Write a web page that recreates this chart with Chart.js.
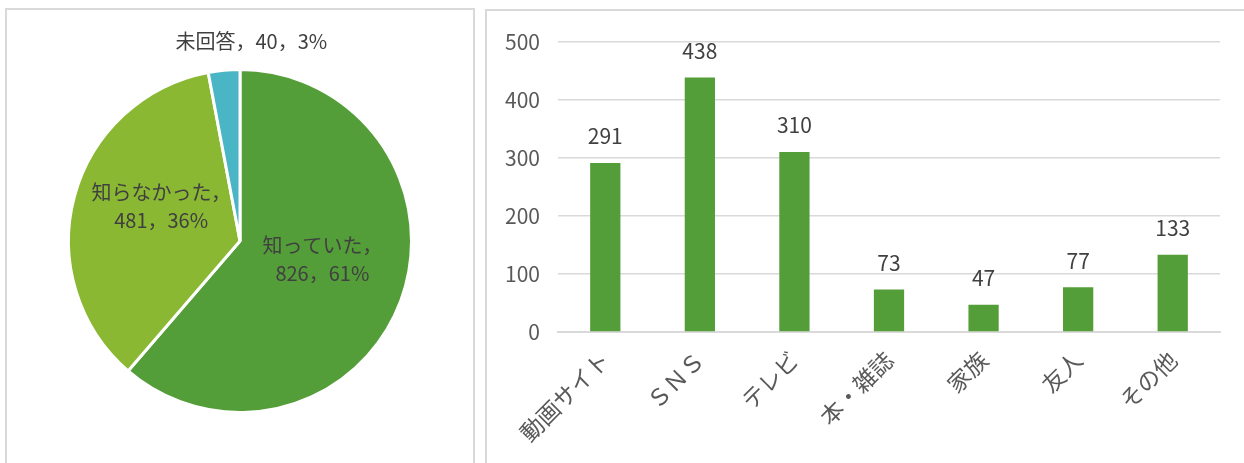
<!DOCTYPE html>
<html lang="ja">
<head>
<meta charset="utf-8">
<script src="https://cdn.jsdelivr.net/npm/chart.js@4"></script>
<style>
  body { margin: 0; width: 1244px; height: 463px; overflow: hidden; background: #fff; font-family: "Noto Sans CJK JP", sans-serif; }
  .panel { position: absolute; border: 2px solid #d9d9d9; box-sizing: border-box; background: #fff; }
  #pie-panel { left: 5px; top: 8px; width: 470px; height: 480px; }
  #bar-panel { left: 485px; top: 9px; width: 800px; height: 480px; }
  canvas { position: absolute; }
</style>
</head>
<body>
<div class="panel" id="pie-panel"><canvas id="pie-chart"></canvas></div>
<div class="panel" id="bar-panel"><canvas id="bar-chart"></canvas></div>
<script>
// Pie data
const pieLabels = ['知っていた', '知らなかった', '未回答'];
const pieValues = [826, 481, 40];
const piePercents = ['61%', '36%', '3%'];
const pieColors = ['#549e39', '#8ab833', '#4ab5c4'];

// Bar data
const barLabels = ['動画サイト', 'ＳＮＳ', 'テレビ', '本・雑誌', '家族', '友人', 'その他'];
const barValues = [291, 438, 310, 73, 47, 77, 133];
const yTicks = [0, 100, 200, 300, 400, 500];

const textColor = '#404040';
const fontFamily = '"Noto Sans CJK JP", sans-serif';

// Draws the pie labels from the arc elements
const pieLabelPlugin = {
    id: 'pieLabels',
    afterDatasetsDraw(chart) {
        const ctx = chart.ctx;
        const meta = chart.getDatasetMeta(0);
        ctx.save();
        ctx.fillStyle = textColor;
        ctx.font = '20px ' + fontFamily;
        ctx.textAlign = 'center';
        ctx.textBaseline = 'middle';
        meta.data.forEach((arc, i) => {
            const name = pieLabels[i];
            const rest = pieValues[i] + '，' + piePercents[i];
            if (i === 2) {
                // small slice: label sits outside, above the pie
                const mid = (arc.startAngle + arc.endAngle) / 2;
                const r = arc.outerRadius + 29;
                const x = arc.x + Math.cos(mid) * r + 30;
                const y = arc.y + Math.sin(mid) * r;
                ctx.fillText(name + '，' + rest, x, y);
            } else {
                const pos = arc.tooltipPosition();
                const dx = i === 1 ? 4 : 2;
                const dy = i === 1 ? -12 : -11;
                ctx.fillText(name + '，', pos.x + dx, pos.y + dy - 14);
                ctx.fillText(rest, pos.x + dx, pos.y + dy + 14);
            }
        });
        ctx.restore();
    }
};

// Draws value labels above the bars
const barLabelPlugin = {
    id: 'barLabels',
    afterDatasetsDraw(chart) {
        const ctx = chart.ctx;
        const meta = chart.getDatasetMeta(0);
        ctx.save();
        ctx.fillStyle = textColor;
        ctx.font = '21px ' + fontFamily;
        ctx.textAlign = 'center';
        ctx.textBaseline = 'bottom';
        meta.data.forEach((bar, i) => {
            ctx.fillText(String(barValues[i]), bar.x, bar.y - 16);
        });
        ctx.restore();
    }
};

function makePie() {
    const canvas = document.getElementById('pie-chart');
    canvas.style.left = '0px';
    canvas.style.top = '0px';
    canvas.style.width = '466px';
    canvas.style.height = '454px';
    new Chart(canvas, {
        type: 'pie',
        data: {
            labels: pieLabels,
            datasets: [{
                data: pieValues,
                backgroundColor: pieColors,
                borderColor: '#ffffff',
                borderWidth: 3
            }]
        },
        options: {
            responsive: false,
            animation: false,
            layout: { padding: { left: 60, right: 60, top: 55, bottom: 47 } },
            plugins: { legend: { display: false }, tooltip: { enabled: false } }
        },
        plugins: [pieLabelPlugin]
    });
}

function makeBar() {
    const canvas = document.getElementById('bar-chart');
    canvas.style.left = '0px';
    canvas.style.top = '0px';
    canvas.style.width = '757px';
    canvas.style.height = '452px';
    new Chart(canvas, {
        type: 'bar',
        data: {
            labels: barLabels,
            datasets: [{
                data: barValues,
                backgroundColor: '#549e39',
                barPercentage: 0.32,
                categoryPercentage: 1
            }]
        },
        options: {
            responsive: false,
            animation: false,
            layout: { padding: { left: 0, right: 24, top: 29, bottom: 0 } },
            scales: {
                x: {
                    grid: { display: false },
                    border: { color: '#d9d9d9', width: 2 },
                    ticks: {
                        color: '#595959',
                        font: { size: 23, family: fontFamily },
                        minRotation: 45,
                        maxRotation: 45,
                        padding: 6
                    },
                    afterFit(scale) { scale.height = 131; }
                },
                y: {
                    min: 0,
                    max: 500,
                    afterBuildTicks(scale) { scale.ticks = yTicks.map(v => ({ value: v })); },
                    grid: { color: '#d9d9d9', lineWidth: 1.5, drawTicks: false },
                    border: { display: false },
                    ticks: {
                        color: '#595959',
                        font: { size: 21, family: fontFamily },
                        padding: 18
                    },
                    afterFit(scale) { scale.width = 71; }
                }
            },
            plugins: { legend: { display: false }, tooltip: { enabled: false } }
        },
        plugins: [barLabelPlugin]
    });
}

makePie();
makeBar();
</script>
</body>
</html>
